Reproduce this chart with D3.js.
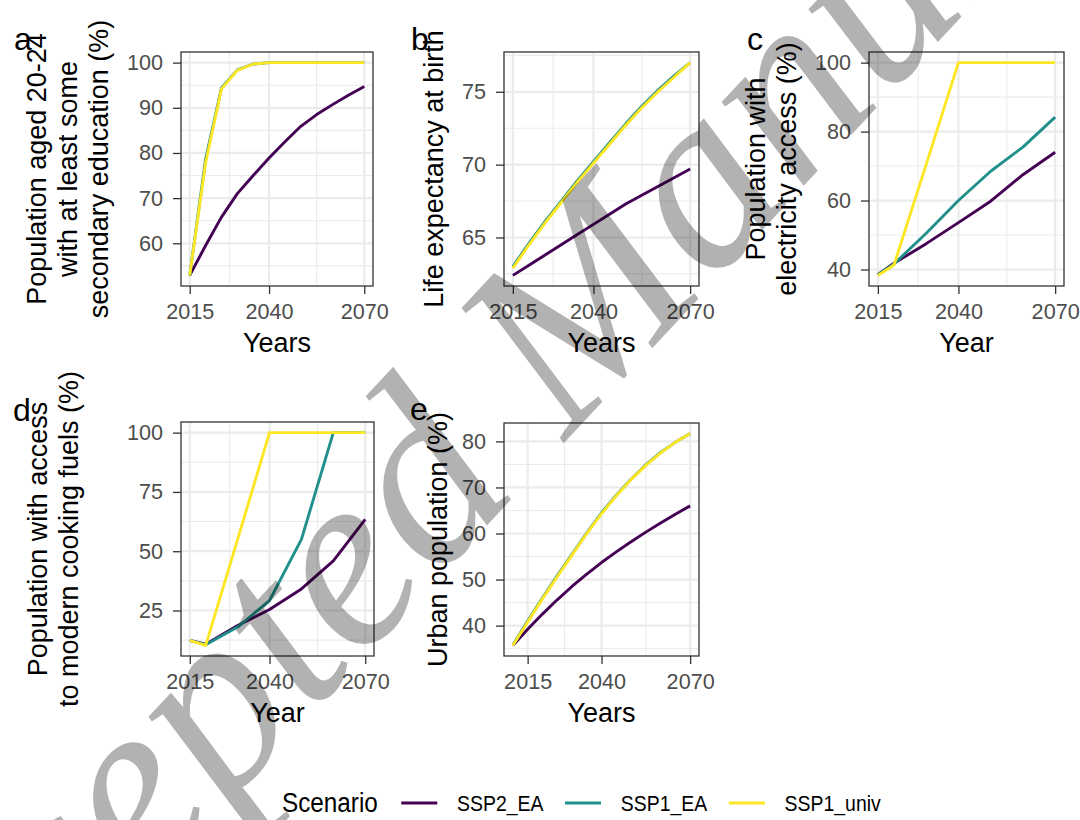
<!DOCTYPE html>
<html lang="en">
<head>
<meta charset="UTF-8">
<title>Scenario indicators</title>
<style>
  body { margin: 0; background: #fff; }
  svg { display: block; font-family: "Liberation Sans", Arial, sans-serif; }
  .grid-major { stroke: #ebebeb; stroke-width: 2.2; }
  .grid-minor { stroke: #ebebeb; stroke-width: 1.1; }
  .axis .tick text { fill: #4d4d4d; font-size: 21.6px; font-family: "Liberation Sans", Arial, sans-serif; }
  .axis .tick line { stroke: #333; stroke-width: 1.3; }
  .axis-title { fill: #000; font-size: 27px; }
  .panel-tag { fill: #000; font-size: 32px; }
  .series { fill: none; stroke-width: 2.9; stroke-linejoin: round; }
</style>
</head>
<body>
<svg id="chart" width="1080" height="820"></svg>
<script src="https://cdn.jsdelivr.net/npm/d3@7"></script>
<script>
// scenarios and colours (viridis, 3 levels)
const scenarios = ["SSP2_EA", "SSP1_EA", "SSP1_univ"];
const colours = ["#440154", "#21908C", "#FDE725"];

// years
const years5 = [2015, 2020, 2025, 2030, 2035, 2040, 2045, 2050, 2055, 2060, 2065, 2070];
const years10 = [2015, 2020, 2030, 2040, 2050, 2060, 2070];
const yearsUrban = [2010, 2015, 2020, 2025, 2030, 2035, 2040, 2045, 2050, 2055, 2060, 2065, 2070];
const xBreaks = [2015, 2040, 2070];

// a: secondary education (%)
const eduSSP2 = [52.9, 59.5, 65.8, 71.0, 75.0, 78.9, 82.5, 85.9, 88.5, 90.7, 92.8, 94.7];
const eduSSP1 = [52.9, 78.6, 94.4, 98.4, 99.7, 100, 100, 100, 100, 100, 100, 100];
const eduUniv = [52.9, 77.8, 94.2, 98.3, 99.7, 100, 100, 100, 100, 100, 100, 100];

// b: life expectancy at birth
const lifeSSP2 = [62.4, 63.1, 63.8, 64.5, 65.2, 65.9, 66.6, 67.3, 67.9, 68.5, 69.1, 69.7];
const lifeSSP1 = [63.0, 64.6, 66.1, 67.5, 68.9, 70.2, 71.5, 72.8, 74.0, 75.1, 76.1, 77.0];
const lifeUniv = [62.9, 64.5, 66.0, 67.4, 68.8, 70.1, 71.4, 72.7, 73.9, 75.0, 76.0, 77.0];

// c: electricity access (%)
const elecSSP2 = [38.5, 41.8, 47.5, 53.6, 59.8, 67.5, 74.0];
const elecSSP1 = [38.5, 41.6, 50.5, 60.0, 68.5, 75.5, 84.2];
const elecUniv = [38.3, 41.3, 70.5, 100, 100, 100, 100];

// d: modern cooking fuels (%)
const cookSSP2 = [12.4, 10.8, 18.7, 25.4, 34.1, 45.9, 63.4];
const cookSSP1 = [12.4, 10.6, 18.0, 29.2, 55.0, 100, 100];
const cookUniv = [12.4, 10.3, 55.0, 100, 100, 100, 100];

// e: urban population (%)
const urbSSP2 = [35.7, 39.2, 42.5, 45.6, 48.5, 51.2, 53.7, 56.0, 58.2, 60.3, 62.3, 64.2, 66.0];
const urbSSP1 = [35.8, 41.0, 46.0, 50.8, 55.5, 60.1, 64.5, 68.3, 71.8, 74.9, 77.6, 79.8, 81.7];
const urbUniv = [35.7, 40.8, 45.8, 50.6, 55.3, 60.0, 64.3, 68.2, 71.7, 74.8, 77.5, 79.8, 81.7];

const yTicksA = [60, 70, 80, 90, 100];
const yTicksB = [65, 70, 75];
const yTicksC = [40, 60, 80, 100];
const yTicksD = [25, 50, 75, 100];
const yTicksE = [40, 50, 60, 70, 80];

const panels = [
  { tag: "a", years: years5, series: [eduSSP2, eduSSP1, eduUniv], yTicks: yTicksA,
    box: { left: 181, right: 373, top: 52, bottom: 286 }, xTitle: "Years",
    yTitle: ["Population aged 20-24", "with at least some", "secondary education (%)"], yTitleX: 108,
    tagPos: [14, 50] },
  { tag: "b", years: years5, series: [lifeSSP2, lifeSSP1, lifeUniv], yTicks: yTicksB,
    box: { left: 504, right: 699, top: 52, bottom: 286 }, xTitle: "Years",
    yTitle: ["Life expectancy at birth"], yTitleX: 443, tagPos: [411, 50] },
  { tag: "c", years: years10, series: [elecSSP2, elecSSP1, elecUniv], yTicks: yTicksC,
    box: { left: 869, right: 1064, top: 52, bottom: 286 }, xTitle: "Year",
    yTitle: ["Population with", "electricity access (%)"], yTitleX: 796, tagPos: [747, 50] },
  { tag: "d", years: years10, series: [cookSSP2, cookSSP1, cookUniv], yTicks: yTicksD,
    box: { left: 181, right: 374, top: 422, bottom: 656 }, xTitle: "Year",
    yTitle: ["Population with access", "to modern cooking fuels (%)"], yTitleX: 78, tagPos: [13, 421] },
  { tag: "e", years: yearsUrban, series: [urbSSP2, urbSSP1, urbUniv], yTicks: yTicksE,
    box: { left: 504, right: 699, top: 423, bottom: 656 }, xTitle: "Years",
    yTitle: ["Urban population (%)"], yTitleX: 447, tagPos: [410, 420] }
];

const svg = d3.select("#chart");

// minor breaks: midpoints between majors, plus one step beyond each end
function minorBreaks(major, domain) {
  const out = [];
  for (let i = 1; i < major.length; i++) out.push((major[i - 1] + major[i]) / 2);
  const n = major.length;
  out.push(major[0] - (major[1] - major[0]) / 2);
  out.push(major[n - 1] + (major[n - 1] - major[n - 2]) / 2);
  return out.filter(v => v > domain[0] && v < domain[1]);
}

function drawPanel(p) {
  const g = svg.append("g");
  const b = p.box;
  const xr = d3.extent(p.years), ex = (xr[1] - xr[0]) * 0.05;
  const yr = d3.extent(p.series.flat()), ey = (yr[1] - yr[0]) * 0.05;
  const x = d3.scaleLinear().domain([xr[0] - ex, xr[1] + ex]).range([b.left, b.right]);
  const y = d3.scaleLinear().domain([yr[0] - ey, yr[1] + ey]).range([b.bottom, b.top]);

  g.append("rect").attr("x", b.left).attr("y", b.top)
    .attr("width", b.right - b.left).attr("height", b.bottom - b.top).attr("fill", "#fff");

  // grid
  const xMinor = minorBreaks(xBreaks, x.domain());
  const yMinor = minorBreaks(p.yTicks, y.domain());
  g.selectAll(".gx-minor").data(xMinor).enter().append("line").attr("class", "grid-minor")
    .attr("x1", d => x(d)).attr("x2", d => x(d)).attr("y1", b.top).attr("y2", b.bottom);
  g.selectAll(".gy-minor").data(yMinor).enter().append("line").attr("class", "grid-minor")
    .attr("x1", b.left).attr("x2", b.right).attr("y1", d => y(d)).attr("y2", d => y(d));
  g.selectAll(".gx-major").data(xBreaks).enter().append("line").attr("class", "grid-major")
    .attr("x1", d => x(d)).attr("x2", d => x(d)).attr("y1", b.top).attr("y2", b.bottom);
  g.selectAll(".gy-major").data(p.yTicks).enter().append("line").attr("class", "grid-major")
    .attr("x1", b.left).attr("x2", b.right).attr("y1", d => y(d)).attr("y2", d => y(d));

  // lines
  const line = d3.line().x(d => x(d[0])).y(d => y(d[1]));
  p.series.forEach((vals, i) => {
    g.append("path").attr("class", "series").attr("stroke", colours[i])
      .attr("d", line(p.years.map((yr, j) => [yr, vals[j]])));
  });

  // border
  g.append("rect").attr("x", b.left).attr("y", b.top)
    .attr("width", b.right - b.left).attr("height", b.bottom - b.top)
    .attr("fill", "none").attr("stroke", "#333").attr("stroke-width", 1.3);

  // axes
  g.append("g").attr("class", "axis").attr("transform", `translate(0,${b.bottom})`)
    .call(d3.axisBottom(x).tickValues(xBreaks).tickFormat(d3.format("d")).tickSize(8).tickPadding(10))
    .call(a => a.select(".domain").remove());
  g.append("g").attr("class", "axis").attr("transform", `translate(${b.left},0)`)
    .call(d3.axisLeft(y).tickValues(p.yTicks).tickFormat(d3.format("d")).tickSize(8).tickPadding(10))
    .call(a => a.select(".domain").remove());

  // titles
  g.append("text").attr("class", "axis-title").attr("text-anchor", "middle")
    .attr("x", (b.left + b.right) / 2).attr("y", b.bottom + 66).text(p.xTitle);
  const cy = (b.top + b.bottom) / 2;
  const n = p.yTitle.length;
  p.yTitle.forEach((t, i) => {
    const bx = p.yTitleX - (n - 1 - i) * 31;
    g.append("text").attr("class", "axis-title").attr("text-anchor", "middle")
      .attr("transform", `translate(${bx},${cy}) rotate(-90)`).text(t);
  });

  g.append("text").attr("class", "panel-tag")
    .attr("x", p.tagPos[0]).attr("y", p.tagPos[1]).text(p.tag);
}

panels.forEach(drawPanel);

// legend (text in the original is a little condensed)
const legend = svg.append("g").attr("transform", "translate(282,803) scale(0.9,1)");
let lx = 0;
const title = legend.append("text").attr("x", lx).attr("dy", "0.35em")
  .style("font-size", "27px").attr("fill", "#000").text("Scenario");
lx += title.node().getComputedTextLength() + 26;
scenarios.forEach((s, i) => {
  legend.append("line").attr("x1", lx).attr("x2", lx + 40).attr("y1", 0).attr("y2", 0)
    .attr("stroke", colours[i]).attr("stroke-width", 2.8);
  lx += 40 + 22;
  const t = legend.append("text").attr("x", lx).attr("dy", "0.35em")
    .style("font-size", "21.6px").attr("fill", "#000").text(s);
  lx += t.node().getComputedTextLength() + 24;
});

// watermark
svg.append("text")
  .attr("transform", "translate(-115,1171) rotate(-47)")
  .style("font-family", "'Liberation Serif', 'Times New Roman', serif")
  .style("font-style", "italic")
  .style("font-size", "255px")
  .attr("fill", "#000").attr("fill-opacity", 0.3)
  .text("Accepted Manuscript");
</script>
</body>
</html>
